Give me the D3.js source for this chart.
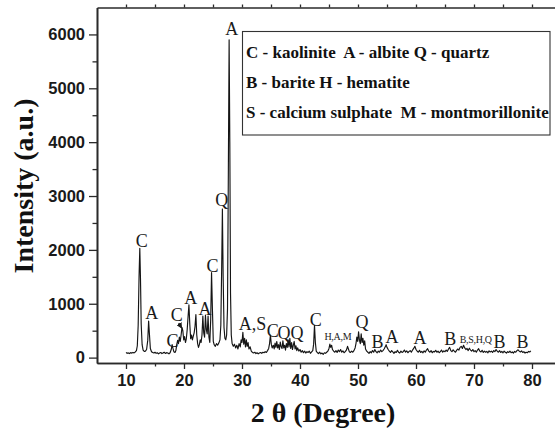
<!DOCTYPE html>
<html>
<head>
<meta charset="utf-8">
<script src="https://cdn.jsdelivr.net/npm/d3@7"></script>
<style>
  body { margin: 0; background: #fff; }
  svg { display: block; }
</style>
</head>
<body>
<svg id="chart" width="555" height="431"></svg>
<script>
// XRD pattern: [2θ (degree), intensity (a.u.)]
const pattern = [
  [10.0,95],[10.2,80],[10.4,88],[10.6,75],[10.8,92],[11.0,84],[11.2,96],[11.4,88],[11.6,105],[11.8,130],
  [11.95,220],[12.1,600],[12.25,1500],[12.38,2030],[12.5,1450],[12.62,620],[12.78,240],[12.95,140],[13.15,115],[13.35,120],
  [13.55,150],[13.75,320],[13.9,680],[14.05,420],[14.2,170],[14.4,110],[14.6,95],[14.8,85],[15.0,100],[15.2,80],
  [15.4,90],[15.6,70],[15.8,85],[16.0,95],[16.2,75],[16.4,88],[16.6,100],[16.8,78],[17.0,92],[17.2,85],
  [17.4,70],[17.6,90],[17.8,150],[17.95,240],[18.1,170],[18.25,110],[18.45,95],[18.6,130],[18.75,240],[18.9,320],
  [19.05,260],[19.2,380],[19.35,300],[19.5,420],[19.65,560],[19.8,500],[19.95,330],[20.1,390],[20.25,280],[20.4,350],
  [20.55,520],[20.7,760],[20.85,980],[21.0,620],[21.15,350],[21.3,420],[21.45,330],[21.6,400],[21.75,460],[21.9,580],
  [22.05,800],[22.2,420],[22.35,260],[22.5,190],[22.65,240],[22.8,330],[22.95,280],[23.1,420],[23.25,770],[23.4,460],
  [23.55,380],[23.7,790],[23.85,520],[24.0,440],[24.15,770],[24.3,380],[24.45,280],[24.6,700],[24.75,1580],[24.9,900],
  [25.05,300],[25.2,240],[25.4,210],[25.6,260],[25.8,230],[26.0,270],[26.2,330],[26.35,600],[26.5,1700],[26.62,2760],
  [26.75,1500],[26.9,560],[27.05,360],[27.2,330],[27.35,420],[27.5,900],[27.65,3500],[27.78,5900],[27.9,4000],[28.02,1200],
  [28.15,420],[28.3,260],[28.5,210],[28.7,250],[28.9,180],[29.1,230],[29.3,160],[29.5,260],[29.7,200],[29.85,330],
  [30.0,280],[30.15,470],[30.3,250],[30.45,360],[30.6,200],[30.75,330],[30.9,210],[31.05,280],[31.2,160],[31.4,200],
  [31.6,120],[31.8,95],[32.0,85],[32.2,100],[32.4,75],[32.6,90],[32.8,70],[33.0,85],[33.2,95],[33.4,80],
  [33.6,100],[33.8,90],[34.0,110],[34.2,95],[34.4,130],[34.6,170],[34.75,260],[34.9,420],[35.05,250],[35.2,180],
  [35.4,230],[35.55,160],[35.7,270],[35.85,190],[36.0,300],[36.15,180],[36.3,240],[36.45,150],[36.6,290],[36.75,200],
  [36.9,170],[37.05,310],[37.2,180],[37.35,230],[37.5,140],[37.65,260],[37.8,190],[37.95,330],[38.1,200],[38.25,360],
  [38.4,170],[38.55,280],[38.7,150],[38.85,230],[39.0,300],[39.15,160],[39.3,220],[39.45,130],[39.6,180],[39.8,120],
  [40.0,150],[40.2,100],[40.4,130],[40.6,90],[40.8,120],[41.0,85],[41.2,110],[41.4,95],[41.6,120],[41.8,80],
  [42.0,105],[42.2,130],[42.35,250],[42.5,600],[42.65,280],[42.8,120],[43.0,90],[43.2,75],[43.4,100],[43.6,70],
  [43.8,85],[44.0,60],[44.2,90],[44.4,80],[44.6,100],[44.8,120],[45.0,170],[45.15,250],[45.3,190],[45.45,230],
  [45.6,150],[45.8,120],[46.0,100],[46.2,130],[46.4,95],[46.6,140],[46.8,110],[47.0,150],[47.2,100],[47.4,125],
  [47.6,90],[47.8,110],[48.0,140],[48.2,210],[48.35,160],[48.5,110],[48.7,95],[48.9,120],[49.1,100],[49.3,130],
  [49.5,180],[49.65,260],[49.8,380],[49.95,300],[50.1,480],[50.25,320],[50.4,260],[50.55,440],[50.7,280],[50.85,360],
  [51.0,230],[51.15,310],[51.3,160],[51.5,120],[51.7,100],[51.9,80],[52.1,110],[52.3,90],[52.5,130],[52.7,100],
  [52.9,150],[53.1,110],[53.3,90],[53.5,120],[53.7,100],[53.9,140],[54.1,110],[54.3,130],[54.5,160],[54.7,200],
  [54.85,240],[55.0,190],[55.2,150],[55.4,120],[55.6,95],[55.8,130],[56.0,105],[56.2,80],[56.4,110],[56.6,95],
  [56.8,135],[57.0,100],[57.2,85],[57.4,120],[57.6,95],[57.8,110],[58.0,140],[58.2,100],[58.4,125],[58.6,90],
  [58.8,115],[59.0,130],[59.2,100],[59.4,140],[59.6,170],[59.8,210],[60.0,150],[60.2,120],[60.4,100],[60.6,135],
  [60.8,95],[61.0,115],[61.2,90],[61.4,125],[61.6,100],[61.8,140],[62.0,165],[62.2,120],[62.4,100],[62.6,130],
  [62.8,90],[63.0,115],[63.2,105],[63.4,135],[63.6,100],[63.8,120],[64.0,90],[64.2,110],[64.4,140],[64.6,100],
  [64.8,125],[65.0,110],[65.2,140],[65.4,115],[65.6,160],[65.8,190],[66.0,130],[66.2,110],[66.4,145],[66.6,120],
  [66.8,100],[67.0,135],[67.2,160],[67.4,140],[67.6,190],[67.8,210],[68.0,170],[68.2,230],[68.4,180],[68.6,150],
  [68.8,170],[69.0,130],[69.2,175],[69.4,140],[69.6,120],[69.8,150],[70.0,110],[70.2,130],[70.4,100],[70.6,140],
  [70.8,165],[71.0,120],[71.2,105],[71.4,135],[71.6,95],[71.8,120],[72.0,100],[72.2,115],[72.4,90],[72.6,125],
  [72.8,105],[73.0,120],[73.2,95],[73.4,130],[73.6,110],[73.8,150],[74.0,120],[74.2,100],[74.4,130],[74.6,95],
  [74.8,115],[75.0,90],[75.2,120],[75.4,100],[75.6,85],[75.8,110],[76.0,95],[76.2,120],[76.4,90],[76.6,105],
  [76.8,85],[77.0,115],[77.2,100],[77.4,130],[77.6,145],[77.8,120],[78.0,105],[78.2,125],[78.4,95],[78.6,110],
  [78.8,85],[79.0,100],[79.2,90],[79.4,115],[79.6,105],[79.8,125]
];

const xMajorTicks = [10, 20, 30, 40, 50, 60, 70, 80];
const xMinorTicks = [15, 25, 35, 45, 55, 65, 75];
const yMajorTicks = [0, 1000, 2000, 3000, 4000, 5000, 6000];
const yMinorTicks = [500, 1500, 2500, 3500, 4500, 5500];

// Phase letters over the reflections: [text, 2θ, intensity of text baseline]
const peakLabels = [
  ["C", 12.72, 2060], ["A", 14.43, 711], ["C", 18.02, 202], ["C", 18.74, 685],
  ["A", 21.17, 995], ["A", 23.62, 791], ["C", 24.91, 1595], ["Q", 26.5, 2815],
  ["A", 28.22, 5990], ["A,S", 31.8, 512], ["C", 35.3, 382], ["Q", 37.24, 345],
  ["Q", 39.48, 345], ["C", 42.72, 587], ["Q", 50.69, 550], ["B", 53.36, 178],
  ["A", 55.86, 266], ["A", 60.69, 252], ["B", 65.9, 234], ["B", 74.4, 178],
  ["B", 78.36, 178]
];
const smallPeakLabels = [
  ["H,A,M", 46.52, 327], ["B,S,H,Q", 70.3, 271]
];
// pointer from the second kaolinite mark down to its reflection
const pointerFrom = [19.08, 640];
const pointerTo = [19.62, 545];

const phaseKey = [
  "C - kaolinite  A - albite Q - quartz",
  "B - barite H - hematite",
  "S - calcium sulphate  M - montmorillonite"
];

const xTitle = "2 \u03B8 (Degree)";
const yTitle = "Intensity (a.u.)";

const svg = d3.select("#chart");
const frame = { left: 97, right: 561, top: 7.5, bottom: 363 };

const x = d3.scaleLinear().domain([5, 85]).range([frame.left, frame.right]);
const y = d3.scaleLinear().domain([-100, 6500]).range([frame.bottom, frame.top]);

const axisColor = "#2a2a2a";
const tickFont = "'Liberation Sans', Arial, sans-serif";
const serif = "'Liberation Serif', 'Times New Roman', serif";

// diffraction trace
svg.append("path")
  .datum(pattern)
  .attr("fill", "none")
  .attr("stroke", "#151515")
  .attr("stroke-width", 1.15)
  .attr("stroke-linejoin", "round")
  .attr("d", d3.line().x(d => x(d[0])).y(d => y(d[1])));

// bottom axis
const gx = svg.append("g").attr("transform", `translate(0,${frame.bottom})`);
gx.call(d3.axisBottom(x).tickValues(xMajorTicks).tickSize(6).tickSizeOuter(0).tickPadding(5).tickFormat(d3.format("d")));
gx.append("g").call(d3.axisBottom(x).tickValues(xMinorTicks).tickSize(3.5).tickSizeOuter(0).tickFormat(""));

// left axis
const gy = svg.append("g").attr("transform", `translate(${frame.left},0)`);
gy.call(d3.axisLeft(y).tickValues(yMajorTicks).tickSize(8).tickSizeOuter(0).tickPadding(4).tickFormat(d3.format("d")));
gy.append("g").call(d3.axisLeft(y).tickValues(yMinorTicks).tickSize(4.5).tickSizeOuter(0).tickFormat(""));

// top frame edge with ticks only
const gt = svg.append("g").attr("transform", `translate(0,${frame.top})`);
gt.call(d3.axisTop(x).tickValues(xMajorTicks.concat(xMinorTicks)).tickSize(3).tickSizeOuter(0).tickFormat(""));

svg.selectAll(".domain").attr("stroke", axisColor).attr("stroke-width", 1.6);
svg.selectAll(".tick line").attr("stroke", axisColor).attr("stroke-width", 1.3);
svg.selectAll(".tick text")
  .attr("fill", "#1a1a1a")
  .style("font-family", tickFont)
  .style("font-weight", "bold")
  .style("font-size", "16.5px");

// phase labels
svg.append("g").selectAll("text")
  .data(peakLabels).join("text")
  .attr("x", d => x(d[1])).attr("y", d => y(d[2]))
  .attr("text-anchor", "middle")
  .style("font-family", serif).style("font-size", "18px").attr("fill", "#1a1a1a")
  .text(d => d[0]);

svg.append("g").selectAll("text")
  .data(smallPeakLabels).join("text")
  .attr("x", d => x(d[1])).attr("y", d => y(d[2]))
  .attr("text-anchor", "middle")
  .style("font-family", serif).style("font-size", "10px")
  .style("letter-spacing", "-0.3px")
  .attr("fill", "#1a1a1a")
  .text(d => d[0]);

// pointer arrow
svg.append("defs").append("marker")
  .attr("id", "head").attr("viewBox", "0 0 10 10")
  .attr("refX", 9).attr("refY", 5)
  .attr("markerWidth", 5).attr("markerHeight", 5)
  .attr("orient", "auto")
  .append("path").attr("d", "M0,0L10,5L0,10z").attr("fill", "#1a1a1a");
svg.append("line")
  .attr("x1", x(pointerFrom[0])).attr("y1", y(pointerFrom[1]))
  .attr("x2", x(pointerTo[0])).attr("y2", y(pointerTo[1]))
  .attr("stroke", "#1a1a1a").attr("stroke-width", 1.2)
  .attr("marker-end", "url(#head)");

// phase key box
const key = svg.append("g");
key.append("rect")
  .attr("x", 242.5).attr("y", 31.5).attr("width", 307.5).attr("height", 103.5)
  .attr("fill", "#fff").attr("stroke", "#333").attr("stroke-width", 1.1);
key.selectAll("text")
  .data(phaseKey).join("text")
  .attr("x", 246)
  .attr("y", (d, i) => 57.5 + i * 30)
  .style("font-family", serif).style("font-weight", "bold").style("font-size", "17px")
  .style("white-space", "pre")
  .attr("fill", "#111")
  .text(d => d);

// axis titles
svg.append("text")
  .attr("x", 323).attr("y", 421.5)
  .attr("text-anchor", "middle")
  .style("font-family", serif).style("font-weight", "bold").style("font-size", "28px")
  .attr("fill", "#111")
  .text(xTitle);

svg.append("text")
  .attr("transform", "translate(33,186) rotate(-90)")
  .attr("text-anchor", "middle")
  .style("font-family", serif).style("font-weight", "bold").style("font-size", "28px")
  .attr("fill", "#111")
  .text(yTitle);
</script>
</body>
</html>
